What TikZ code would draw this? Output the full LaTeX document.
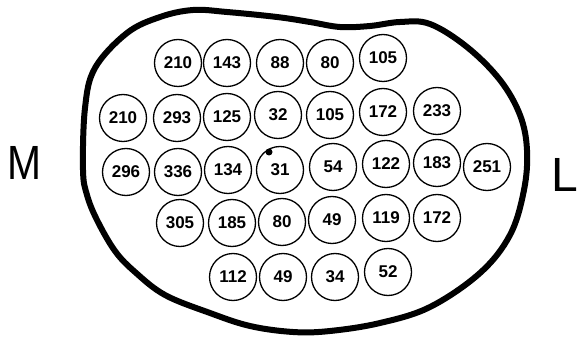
\documentclass[tikz,border=0pt]{standalone}
\usepackage{fontspec}
\setmainfont{Liberation Sans}
\begin{document}
\begin{tikzpicture}[x=1pt,y=-1pt,
  fib/.style={circle,draw,line width=1.3pt,minimum size=47pt,inner sep=0pt,
    font=\fontsize{17}{17}\selectfont\bfseries},
  side/.style={font=\fontsize{48}{48}\selectfont,inner sep=0pt}]
\useasboundingbox (0,0) rectangle (581,339);
% outline
\draw[line width=6pt,line join=round] plot[smooth cycle,tension=0.6] coordinates {
  (83,170) (85,108) (95,68) (127,33) (160,17) (193,10) (227,12) (277,17)
  (310,22) (340,27) (370,26) (400,22) (430,24) (467,47) (500,80) (520,115)
  (527,150) (524,190) (510,235) (480,273) (430,307) (380,323) (330,331)
  (293,332) (250,326) (210,313) (165,295) (135,272) (115,251) (97,220) (87,195)};
% row 1
\node[fib] (a1) at (178,63) {210};
\node[fib] (a2) at (227,63) {143};
\node[fib] (a3) at (280,63) {88};
\node[fib] (a4) at (330,63) {80};
\node[fib] (a5) at (383,58) {105};
% row 2
\node[fib] (b1) at (123,118) {210};
\node[fib] (b2) at (177,118) {293};
\node[fib] (b3) at (227,117) {125};
\node[fib] (b4) at (278,115) {32};
\node[fib] (b5) at (330,115) {105};
\node[fib] (b6) at (383,112) {172};
\node[fib] (b7) at (437,111) {233};
% row 3
\node[fib] (c1) at (126,172) {296};
\node[fib] (c2) at (178,172) {336};
\node[fib] (c3) at (228,170) {134};
\node[fib] (c4) at (280,170) {31};
\node[fib] (c5) at (333,167) {54};
\node[fib] (c6) at (386,164) {122};
\node[fib] (c7) at (437,163) {183};
\node[fib] (c8) at (487,167) {251};
% row 4
\node[fib] (d1) at (180,223) {305};
\node[fib] (d2) at (232,223) {185};
\node[fib] (d3) at (282,222) {80};
\node[fib] (d4) at (332,220) {49};
\node[fib] (d5) at (386,218) {119};
\node[fib] (d6) at (437,218) {172};
% row 5
\node[fib] (e1) at (233,277) {112};
\node[fib] (e2) at (283,277) {49};
\node[fib] (e3) at (335,277) {34};
\node[fib] (e4) at (388,272) {52};
% dot on 31
\fill (269,152) circle (3.5pt);
% side labels
\node[side,anchor=west,xscale=0.85] (m) at (7,163) {M};
\node[side,anchor=west] (l) at (551,175) {L};
\end{tikzpicture}
\end{document}
